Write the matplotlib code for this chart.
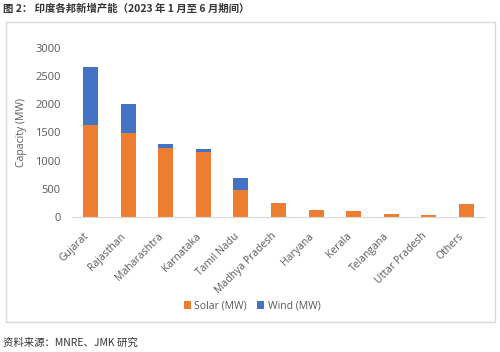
import matplotlib.pyplot as plt
import numpy as np
from matplotlib.patches import Rectangle

plt.rcParams['font.family'] = ['Noto Sans CJK SC', 'DejaVu Sans']

states = ['Gujarat', 'Rajasthan', 'Maharashtra', 'Karnataka', 'Tamil Nadu',
          'Madhya Pradesh', 'Haryana', 'Kerala', 'Telangana', 'Uttar Pradesh', 'Others']
solar = [1625, 1490, 1220, 1160, 478, 250, 120, 107, 48, 36, 227]
wind = [1035, 517, 72, 48, 213, 0, 0, 0, 0, 0, 0]

orange = '#ED7D31'
blue = '#4472C4'
grey = '#595959'
latin = 'Open Sans'

fig = plt.figure(figsize=(5, 3.52), dpi=100)
ax = fig.add_axes([0.144, 0.384, 0.826, 0.48])

x = np.arange(len(states))
ax.bar(x, solar, 0.4, color=orange, label='Solar (MW)')
ax.bar(x, wind, 0.4, bottom=solar, color=blue, label='Wind (MW)')

ax.set_ylim(0, 3000)
ax.set_xlim(-0.5, len(states) - 0.5)
ax.set_yticks(range(0, 3001, 500))
ax.set_xticks(x)
ax.set_xticklabels(states, rotation=45, ha='right', va='top')
ax.tick_params(axis='both', length=0, labelcolor=grey)
ax.tick_params(axis='y', pad=8, labelsize=8)
ax.tick_params(axis='x', pad=10, labelsize=7.5)
for lab in ax.get_xticklabels() + ax.get_yticklabels():
    lab.set_family(latin)
for s in ['top', 'right', 'left']:
    ax.spines[s].set_visible(False)
ax.spines['bottom'].set_color('#d9d9d9')
ax.set_ylabel('Capacity (MW)', fontsize=7.5, color=grey, labelpad=6, family=latin)

fig.legend(loc='center', bbox_to_anchor=(0.504, 1 - 306 / 352), ncol=2, frameon=False,
           prop={'family': latin, 'size': 7.5}, labelcolor=grey,
           handlelength=0.7, handleheight=0.7, columnspacing=1.0, handletextpad=0.3)

fig.patches.append(Rectangle((6 / 500, 1 - 322 / 352), 489 / 500, 300 / 352,
                             transform=fig.transFigure, fill=False,
                             edgecolor='#d9d9d9', linewidth=1))

fig.text(0.006, 1 - 9 / 352, '图 2： 印度各邦新增产能（2023 年 1 月至 6 月期间）',
         fontsize=7.5, fontweight='bold', color='#333333', va='center')
fig.text(0.006, 1 - 343 / 352, '资料来源：MNRE、JMK 研究', fontsize=7.5,
         style='italic', color='#333333', va='center')

fig.savefig('out.png', dpi=100)
